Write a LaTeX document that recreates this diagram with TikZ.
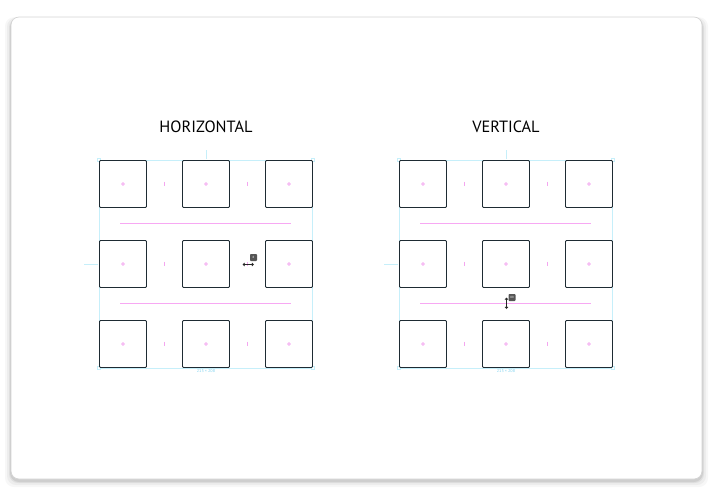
\documentclass[tikz,border=0pt]{standalone}
\usepackage{fontspec}
\setmainfont{PT Sans}
\usetikzlibrary{arrows.meta}
\definecolor{cardline}{HTML}{D4D4D4}
\definecolor{boxline}{HTML}{1E2B33}
\definecolor{guide}{HTML}{C6EFFA}
\definecolor{guidetext}{HTML}{7FD3F0}
\definecolor{pinkline}{HTML}{F4A6F0}
\definecolor{pinkgap}{HTML}{F7A8F3}
\definecolor{badge}{HTML}{555555}
\tikzset{
  cell/.style={draw=boxline, line width=0.9pt, rounded corners=1pt, minimum width=47pt, minimum height=47pt, inner sep=0pt, fill=white},
  frame/.style={draw=guide, line width=0.8pt},
  handle/.style={draw=guide, fill=white, line width=0.5pt, minimum size=3pt, inner sep=0pt},
  gapbar/.style={fill=pinkgap, draw=none, minimum width=171pt, minimum height=1.6pt, inner sep=0pt},
  dot/.style={draw=pinkline, line width=0.6pt},
  tick/.style={draw=pinkline, line width=0.7pt},
  guideline/.style={draw=guide, line width=0.8pt},
  title/.style={font=\fontsize{16.3}{17}\selectfont, text=black, inner sep=0pt},
  sizelabel/.style={font=\fontsize{4.2}{5}\selectfont, text=guidetext, inner sep=0pt},
  badgebox/.style={fill=badge, rounded corners=0.8pt, minimum size=7pt, inner sep=0pt, text=white, font=\fontsize{3}{3}\selectfont},
  cursor/.style={draw=black!85, line width=0.8pt, {Straight Barb[length=1.6pt,width=3pt]}-{Straight Barb[length=1.6pt,width=3pt]}}
}
\begin{document}
\begin{tikzpicture}[x=1pt,y=-1pt]
\useasboundingbox (0,0) rectangle (710,491);
% shadow
\foreach \i/\o in {6/0.03,4/0.04,2/0.06,1/0.08}{
  \fill[black, opacity=\o, rounded corners=9pt] (11-\i,19-\i*0.3) rectangle (702+\i,481+\i);
}
\node[draw=cardline, line width=0.7pt, fill=white, rounded corners=8pt, minimum width=691pt, minimum height=462pt, inner sep=0pt] (card) at (356.5,248) {};

\foreach \side/\ox/\name in {L/0/HORIZONTAL,R/300/VERTICAL}{
  \begin{scope}[xshift=\ox]
  \node[title] (title\side) at (206,127) {\name};
  % guide ticks
  \coordinate (gt1\side) at (206,150);
  \coordinate (gt2\side) at (206,159);
  \draw[guideline] (gt1\side) -- (gt2\side);
  \coordinate (gl1\side) at (84,264);
  \coordinate (gl2\side) at (98,264);
  \draw[guideline] (gl1\side) -- (gl2\side);
  % frame
  \draw[frame] (99,160) rectangle (312.5,368);
  \foreach \cx/\cy/\n in {99/160/a,312.5/160/b,99/368/c,312.5/368/d}{
    \node[handle] (h\n\side) at (\cx,\cy) {};
  }
  \node[sizelabel] (size\side) at (206,371.5) {213 × 208};
  % gap bars
  \node[gapbar] (gapa\side) at (205.5,223.5) {};
  \node[gapbar] (gapb\side) at (205.5,303.5) {};
  % cells
  \foreach \r/\cy in {1/184,2/264,3/344}{
    \foreach \c/\cx in {1/123,2/206,3/289}{
      \node[cell] (cell\side\r\c) at (\cx,\cy) {};
      \draw[dot] (cell\side\r\c.center) circle (1.4pt);
    }
    \foreach \tx in {164.5,247.5}{
      \coordinate (ta) at (\tx,\cy-2.2);
      \coordinate (tb) at (\tx,\cy+2.2);
      \draw[tick] (ta) -- (tb);
    }
  }
  \end{scope}
}
% badges and cursors
\node[badgebox] (badgeL) at (253.5,257.5) {8};
\coordinate (curL1) at (242.5,264.5);
\coordinate (curL2) at (254,264.5);
\draw[cursor] (curL1) -- (curL2);
\node[badgebox] (badgeR) at (512,297.5) {80};
\coordinate (curR1) at (506.5,297.5);
\coordinate (curR2) at (506.5,309);
\draw[cursor] (curR1) -- (curR2);
\end{tikzpicture}
\end{document}
